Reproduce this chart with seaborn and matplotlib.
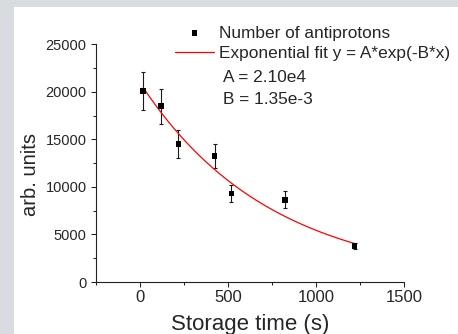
import numpy as np
import pandas as pd
import matplotlib
matplotlib.use('Agg')
import matplotlib.pyplot as plt
from matplotlib.patches import Rectangle
from matplotlib.ticker import MultipleLocator, FixedLocator
import seaborn as sns

# ---- data ----
storage_time = [20, 120, 220, 425, 520, 825, 1220]
antiprotons = [20100, 18500, 14500, 13250, 9300, 8650, 3780]
antiproton_err = [2000, 1850, 1450, 1300, 900, 870, 300]
fit_A = 2.10e4
fit_B = 1.35e-3
x_ticks = [0, 500, 1000, 1500]
y_ticks = [0, 5000, 10000, 15000, 20000, 25000]
series_labels = ['Number of antiprotons', 'Exponential fit y = A*exp(-B*x)']
param_labels = ['A = 2.10e4', 'B = 1.35e-3']
x_label = 'Storage time (s)'
y_label = 'arb. units'

sns.set_theme(style='ticks')
plt.rcParams['font.family'] = ['Liberation Sans', 'DejaVu Sans']

W, H = 458, 334
fig = plt.figure(figsize=(W / 100, H / 100), dpi=100)
fig.patch.set_facecolor('#d8dbdf')
fig.add_artist(Rectangle((14 / W, 0), 1, (H - 7) / H, transform=fig.transFigure,
                         facecolor='white', edgecolor='none', zorder=-5))

ax = fig.add_axes([95.7 / W, 52 / H, (403.9 - 95.7) / W, (282 - 44.3) / H])
ax.set_facecolor('none')

data_df = pd.DataFrame({'t': storage_time, 'y': antiprotons, 'err': antiproton_err})
fit_x = np.linspace(storage_time[0], storage_time[-1], 200)
fit_df = pd.DataFrame({'t': fit_x, 'y': fit_A * np.exp(-fit_B * fit_x)})

ax.errorbar(data_df['t'], data_df['y'], yerr=data_df['err'], fmt='none',
            ecolor='#1a1a1a', elinewidth=0.8, capsize=1.7, capthick=0.8, zorder=2)
sns.lineplot(data=fit_df, x='t', y='y', color='red', lw=0.9, ax=ax,
             label=series_labels[1], zorder=2.5)
sns.scatterplot(data=data_df, x='t', y='y', marker='s', s=16, color='black',
                edgecolor='none', ax=ax, label=series_labels[0], zorder=3)

ax.set_xlim(-250, 1500)
ax.set_ylim(0, 25000)
ax.xaxis.set_major_locator(FixedLocator(x_ticks))
ax.yaxis.set_major_locator(FixedLocator(y_ticks))
ax.xaxis.set_minor_locator(MultipleLocator(250))
ax.yaxis.set_minor_locator(MultipleLocator(2500))
ax.set_xticklabels([str(v) for v in x_ticks])
ax.set_yticklabels([str(v) for v in y_ticks])
ax.tick_params(axis='x', which='major', labelsize=12, pad=2)
ax.tick_params(axis='y', which='major', labelsize=10.5, pad=3)
ax.tick_params(which='major', length=3.6, width=0.75, direction='out', color='#222222')
ax.tick_params(which='minor', length=2.2, width=0.75, direction='out', color='#222222')
for s in ['top', 'right']:
    ax.spines[s].set_visible(False)
for s in ['left', 'bottom']:
    ax.spines[s].set_color('#222222')
    ax.spines[s].set_linewidth(0.8)
ax.set_xlabel('')
ax.set_ylabel('')

fig.text(249.8 / W, 4.3 / H, x_label, ha='center', va='baseline', fontsize=16)
fig.text(30 / W, 1 - 174.5 / H, y_label, rotation=90, ha='center', va='center', fontsize=14.5)

handles, labels = ax.get_legend_handles_labels()
order = [labels.index(l) for l in series_labels]
ax.legend([handles[i] for i in order], [labels[i] for i in order],
          loc='upper left', bbox_to_anchor=(175 / W, 1 - 25.5 / H),
          bbox_transform=fig.transFigure, frameon=False, borderpad=0,
          borderaxespad=0, handlelength=2.27, handletextpad=0.31,
          labelspacing=0.33, fontsize=12.4)

fig.text(222.7 / W, 1 - 81.7 / H, param_labels[0], ha='left', va='baseline', fontsize=12.4)
fig.text(223 / W, 1 - 103.7 / H, param_labels[1], ha='left', va='baseline', fontsize=12.4)

fig.savefig('out.png', dpi=100, facecolor=fig.get_facecolor())
